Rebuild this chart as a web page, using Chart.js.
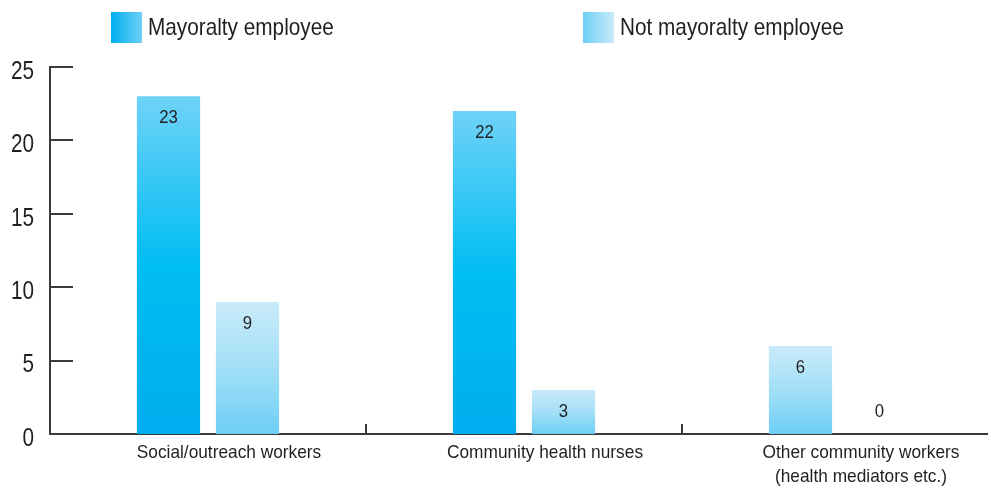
<!DOCTYPE html>
<html lang="en">
<head>
    <meta charset="UTF-8">
    <title>Staff by employer</title>
    <script src="https://cdn.jsdelivr.net/npm/chart.js"></script>
    <style>
        html, body { margin: 0; padding: 0; background: #fff; overflow: hidden; }
        #wrap { width: 1000px; height: 488px; }
    </style>
</head>
<body>
    <div id="wrap">
        <canvas id="myChart"></canvas>
    </div>
    <script>
        const categories = [
            'Social/outreach workers',
            'Community health nurses',
            ['Other community workers', '(health mediators etc.)']
        ];
        const seriesNames = ['Mayoralty employee', 'Not mayoralty employee'];
        const mayoralty = [23, 22, 6];
        const notMayoralty = [9, 3, 0];
        // which shade each bar of the first series uses
        const mayoraltyShade = ['strong', 'strong', 'pale'];
        const yTicks = [0, 5, 10, 15, 20, 25];

        const FONT = "'Liberation Sans', Arial, sans-serif";
        const INK = '#231f20';
        const AXIS = '#3a3a3a';

        const shades = {
            strong: ['#6fd2f8', '#00bdf2', '#00aeef'],
            pale: ['#c9ebfa', '#a3dff7', '#6dcff6']
        };

        function barGradient(ctx, shade) {
            const chart = ctx.chart;
            const stops = shades[shade];
            if (!chart.chartArea) return stops[1];
            const y = chart.scales.y;
            const top = y.getPixelForValue(ctx.raw);
            const base = y.getPixelForValue(0);
            if (base - top < 1) return stops[2];
            const g = chart.ctx.createLinearGradient(0, top, 0, base);
            g.addColorStop(0, stops[0]);
            g.addColorStop(0.5, stops[1]);
            g.addColorStop(1, stops[2]);
            return g;
        }

        // condensed text: squeeze the glyphs horizontally
        function squeezed(c, text, x, y, size, sx, align) {
            c.save();
            c.font = size + 'px ' + FONT;
            c.textAlign = align;
            c.textBaseline = 'middle';
            c.fillStyle = INK;
            c.translate(x, y);
            c.scale(sx, 1);
            c.fillText(text, 0, 0);
            c.restore();
        }

        // legend drawn across the top with wide spacing
        const topLegend = {
            id: 'topLegend',
            afterDraw(chart) {
                const c = chart.ctx;
                const items = [
                    { text: seriesNames[0], x: 111, from: '#00aeef', to: '#6dd0f7' },
                    { text: seriesNames[1], x: 583, from: '#6dcff6', to: '#c9ebfa' }
                ];
                items.forEach(it => {
                    const g = c.createLinearGradient(it.x, 0, it.x + 31, 0);
                    g.addColorStop(0, it.from);
                    g.addColorStop(1, it.to);
                    c.fillStyle = g;
                    c.fillRect(it.x, 12, 31, 31);
                    squeezed(c, it.text, it.x + 37, 28, 24, 0.865, 'left');
                });
            }
        };

        // inward ticks and condensed tick labels on both axes
        const axisDecor = {
            id: 'axisDecor',
            afterDatasetsDraw(chart) {
                const c = chart.ctx;
                const x = chart.scales.x;
                const y = chart.scales.y;
                const area = chart.chartArea;
                c.save();
                c.strokeStyle = AXIS;
                c.lineWidth = 2;
                c.beginPath();
                yTicks.forEach(v => {
                    const py = Math.round(y.getPixelForValue(v));
                    c.moveTo(area.left, py);
                    c.lineTo(area.left + 23, py);
                });
                const step = (area.right - area.left) / categories.length;
                for (let i = 1; i < categories.length; i++) {
                    const px = Math.round(x.getPixelForValue(i) - step / 2);
                    c.moveTo(px, area.bottom);
                    c.lineTo(px, area.bottom - 10);
                }
                c.stroke();
                c.restore();

                yTicks.forEach(v => {
                    squeezed(c, String(v), area.left - 16, y.getPixelForValue(v) + 5, 25, 0.83, 'right');
                });
                categories.forEach((lab, i) => {
                    const lines = Array.isArray(lab) ? lab : [lab];
                    const cx = x.getPixelForValue(i) + 21;
                    lines.forEach((ln, k) => {
                        squeezed(c, ln, cx, area.bottom + 19 + k * 24, 19, 0.91, 'center');
                    });
                });
            }
        };

        // value labels near the top of each bar
        const valueLabels = {
            id: 'valueLabels',
            afterDatasetsDraw(chart) {
                const base = chart.scales.y.getPixelForValue(0);
                chart.data.datasets.forEach((ds, di) => {
                    chart.getDatasetMeta(di).data.forEach((bar, i) => {
                        const ly = Math.min(bar.y + 22, base - 22);
                        squeezed(chart.ctx, String(ds.data[i]), bar.x, ly, 18, 0.93, 'center');
                    });
                });
            }
        };

        const ctx = document.getElementById('myChart');
        new Chart(ctx, {
            type: 'bar',
            data: {
                labels: categories,
                datasets: [
                    {
                        label: seriesNames[0],
                        data: mayoralty,
                        backgroundColor: (c) => barGradient(c, mayoraltyShade[c.dataIndex] || 'strong')
                    },
                    {
                        label: seriesNames[1],
                        data: notMayoralty,
                        backgroundColor: (c) => barGradient(c, 'pale')
                    }
                ]
            },
            options: {
                responsive: true,
                maintainAspectRatio: false,
                animation: false,
                categoryPercentage: 0.5,
                barPercentage: 0.8,
                layout: { padding: { top: 67, right: 2, left: 0, bottom: 0 } },
                plugins: {
                    legend: { display: false },
                    tooltip: { enabled: false }
                },
                scales: {
                    x: {
                        grid: { display: false, drawTicks: false },
                        border: { display: true, color: AXIS, width: 2 },
                        ticks: { display: false },
                        afterFit(scale) { scale.height = 54; }
                    },
                    y: {
                        min: 0,
                        max: 25,
                        grid: { display: false, drawTicks: false },
                        border: { display: true, color: AXIS, width: 2 },
                        ticks: { display: false, stepSize: 5 },
                        afterFit(scale) { scale.width = 50; }
                    }
                }
            },
            plugins: [topLegend, axisDecor, valueLabels]
        });
    </script>
</body>
</html>
